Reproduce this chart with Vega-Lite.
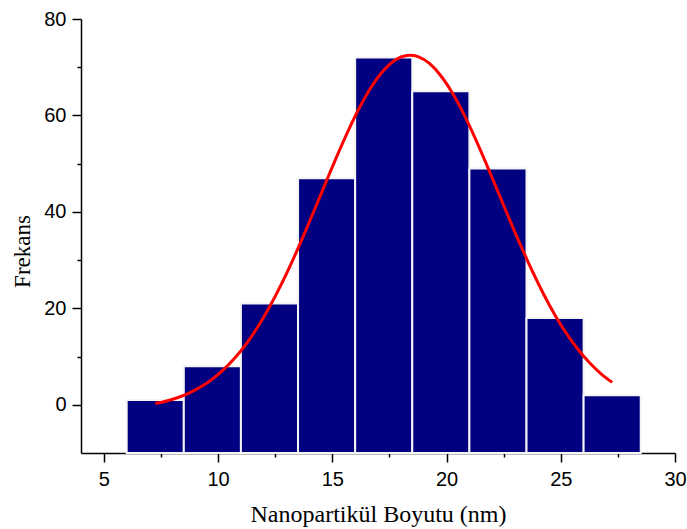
{
  "$schema": "https://vega.github.io/schema/vega-lite/v6.json",
  "width": 594,
  "height": 434,
  "autosize": {"type": "none"},
  "padding": {"left": 81, "top": 19, "right": 12, "bottom": 76},
  "background": "#ffffff",
  "config": {
    "view": {"stroke": null},
    "axis": {
      "grid": false,
      "domainColor": "#000000",
      "domainWidth": 1.5,
      "tickColor": "#000000",
      "tickWidth": 1.5,
      "labelFont": "Liberation Sans",
      "labelFontSize": 20,
      "labelColor": "#000000",
      "titleFont": "Liberation Serif",
      "titleFontWeight": "normal",
      "titleColor": "#000000"
    }
  },
  "layer": [
    {
      "data": {
        "values": [
          {"start": 6, "end": 8.5, "count": 1},
          {"start": 8.5, "end": 11, "count": 8},
          {"start": 11, "end": 13.5, "count": 21},
          {"start": 13.5, "end": 16, "count": 47},
          {"start": 16, "end": 18.5, "count": 72},
          {"start": 18.5, "end": 21, "count": 65},
          {"start": 21, "end": 23.5, "count": 49},
          {"start": 23.5, "end": 26, "count": 18},
          {"start": 26, "end": 28.5, "count": 2}
        ]
      },
      "mark": {"type": "rect", "color": "#000080", "stroke": "#f4f4f4", "strokeWidth": 2},
      "encoding": {
        "x": {
          "field": "start",
          "type": "quantitative",
          "title": "Nanopartikül Boyutu (nm)",
          "scale": {"domain": [4, 30], "nice": false, "zero": false},
          "axis": {
            "values": [5, 7.5, 10, 12.5, 15, 17.5, 20, 22.5, 25, 27.5, 30],
            "labelExpr": "datum.value % 5 === 0 ? datum.label : ''",
            "tickSize": {"condition": {"test": "datum.value % 5 === 0", "value": 9}, "value": 4},
            "labelPadding": 7,
            "labelFlush": false,
            "labelOverlap": false,
            "titleFontSize": 24,
            "titleY": 68,
            "titleBaseline": "alphabetic"
          }
        },
        "x2": {"field": "end"},
        "y": {
          "field": "count",
          "type": "quantitative",
          "title": "Frekans",
          "scale": {"domain": [-10, 80], "nice": false, "zero": false},
          "axis": {
            "values": [0, 10, 20, 30, 40, 50, 60, 70, 80],
            "labelExpr": "datum.value % 20 === 0 ? datum.label : ''",
            "tickSize": {"condition": {"test": "datum.value % 20 === 0", "value": 9}, "value": 4},
            "labelPadding": 6,
            "labelFlush": false,
            "labelOverlap": false,
            "titleFontSize": 23,
            "titleX": -52,
            "titleY": 232,
            "titleBaseline": "alphabetic",
            "titleAngle": -90
          }
        },
        "y2": {"datum": -10}
      }
    },
    {
      "data": {
        "values": [
          {"size": 7.25, "fit": 0.25},
          {"size": 7.75, "fit": 0.78},
          {"size": 8.25, "fit": 1.51},
          {"size": 8.75, "fit": 2.47},
          {"size": 9.25, "fit": 3.72},
          {"size": 9.75, "fit": 5.32},
          {"size": 10.25, "fit": 7.33},
          {"size": 10.75, "fit": 9.79},
          {"size": 11.25, "fit": 12.75},
          {"size": 11.75, "fit": 16.24},
          {"size": 12.25, "fit": 20.27},
          {"size": 12.75, "fit": 24.81},
          {"size": 13.25, "fit": 29.8},
          {"size": 13.75, "fit": 35.18},
          {"size": 14.25, "fit": 40.79},
          {"size": 14.75, "fit": 46.49},
          {"size": 15.25, "fit": 52.09},
          {"size": 15.75, "fit": 57.39},
          {"size": 16.25, "fit": 62.17},
          {"size": 16.75, "fit": 66.22},
          {"size": 17.25, "fit": 69.38},
          {"size": 17.75, "fit": 71.49},
          {"size": 18.25, "fit": 72.45},
          {"size": 18.4, "fit": 72.5},
          {"size": 18.75, "fit": 72.21},
          {"size": 19.25, "fit": 70.78},
          {"size": 19.75, "fit": 68.24},
          {"size": 20.25, "fit": 64.7},
          {"size": 20.75, "fit": 60.33},
          {"size": 21.25, "fit": 55.32},
          {"size": 21.75, "fit": 49.87},
          {"size": 22.25, "fit": 44.21},
          {"size": 22.75, "fit": 38.52},
          {"size": 23.25, "fit": 32.99},
          {"size": 23.75, "fit": 27.76},
          {"size": 24.25, "fit": 22.93},
          {"size": 24.75, "fit": 18.59},
          {"size": 25.25, "fit": 14.78},
          {"size": 25.75, "fit": 11.51},
          {"size": 26.25, "fit": 8.75},
          {"size": 26.75, "fit": 6.47},
          {"size": 27.25, "fit": 4.64}
        ]
      },
      "mark": {"type": "line", "color": "#ff0000", "strokeWidth": 3, "interpolate": "monotone"},
      "encoding": {
        "x": {"field": "size", "type": "quantitative", "title": "Nanopartikül Boyutu (nm)"},
        "y": {"field": "fit", "type": "quantitative", "title": "Frekans"}
      }
    }
  ]
}
